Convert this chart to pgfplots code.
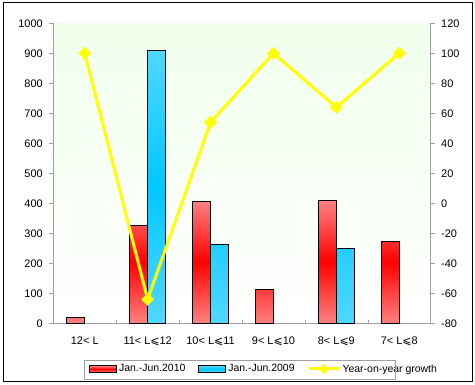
\documentclass[border=0pt]{standalone}
\usepackage{pgfplots}
\pgfplotsset{compat=1.18}
\usepackage{fontspec}
\setmainfont{Liberation Sans}
\newfontfamily\dv{DejaVu Sans}
\definecolor{axgray}{RGB}{160,160,160}
\definecolor{rlight}{RGB}{255,130,130}
\definecolor{rmid}{RGB}{255,0,0}
\definecolor{blight}{RGB}{80,215,255}
\definecolor{bmid}{RGB}{0,200,255}
\definecolor{bgtop}{RGB}{240,255,236}
\definecolor{bggreen}{RGB}{196,246,186}
\definecolor{yel}{RGB}{255,255,0}
\begin{document}
\begin{tikzpicture}
\useasboundingbox (0bp,0bp) rectangle (475bp,385bp);
\draw[black, line width=1bp] (3.5bp,3.5bp) rectangle (472.5bp,382bp);
\begin{axis}[
  at={(53.3bp,61.7bp)}, anchor=south west,
  scale only axis, width=377.4bp, height=300bp,
  xmin=-0.5, xmax=5.5, ymin=0, ymax=1000,
  ytick={0,100,...,1000},
  xtick={0,...,5},
  xticklabels={{12< L},{11< L{\dv ⩽}12},{10< L{\dv ⩽}11},{9< L{\dv ⩽}10},{8< L{\dv ⩽}9},{7< L{\dv ⩽}8}},
  minor xtick={0.5,1.5,2.5,3.5,4.5},
  major x tick style={draw=none},
  minor x tick style={axgray, yshift=3bp},
  minor tick length=3bp,
  major tick length=4bp,
  tick align=outside,
  xtick pos=bottom, ytick pos=left,
  y tick style={axgray},
  axis line style={axgray},
  axis y line*=left,
  axis x line*=bottom,
  tick label style={font=\fontsize{11}{13}\selectfont},
  /pgf/number format/assume math mode=true,
  /pgf/number format/1000 sep={},
  yticklabel style={xshift=-3bp},
  xticklabel style={yshift=-6bp},
  axis background/.style={shade, top color=bgtop, middle color=bggreen, bottom color=white},
  ybar=0pt, bar width=18bp,
  legend columns=3,
  legend style={at={(0.0946,-0.1523)}, anchor=west, draw=none, fill=none,
    inner sep=0pt, font=\fontsize{10.5}{12}\selectfont,
    /tikz/every even column/.append style={column sep=11bp}},
  legend cell align=left,
]
\addplot[draw=black, line width=0.9bp, top color=rlight, bottom color=rlight, middle color=rmid,
  legend image code/.code={\draw[black, line width=0.9bp, fill=rmid] (0bp,-3.2bp) rectangle (27bp,3.2bp);}]
  coordinates {(0,20) (1,327) (2,407) (3,113) (4,410) (5,273)};
\addlegendentry{Jan.-Jun.2010}
\addplot[draw=black, line width=0.9bp, top color=blight, bottom color=blight, middle color=bmid,
  legend image code/.code={\draw[black, line width=0.9bp, fill=bmid] (0bp,-3.2bp) rectangle (27bp,3.2bp);}]
  coordinates {(1,910) (2,263) (4,250)};
\addlegendentry{Jan.-Jun.2009}
\addlegendimage{yel, line width=3bp, legend image code/.code={\draw[yel, line width=3bp] (0bp,0bp) -- (30bp,0bp); \fill[yel] (15bp,0bp) +(-3bp,0bp) -- +(0bp,3bp) -- +(3bp,0bp) -- +(0bp,-3bp) -- cycle;}}
\addlegendentry{Year-on-year growth}
\end{axis}
\begin{axis}[
  at={(53.3bp,61.7bp)}, anchor=south west,
  scale only axis, width=377.4bp, height=300bp,
  xmin=-0.5, xmax=5.5, ymin=-80, ymax=120,
  ytick={-80,-60,...,120},
  axis x line=none,
  axis y line*=right,
  axis line style={axgray},
  y tick style={axgray},
  major tick length=4bp,
  tick align=outside,
  tick label style={font=\fontsize{11}{13}\selectfont},
  /pgf/number format/assume math mode=true,
  yticklabel style={xshift=3bp},
  clip=false,
]
\addplot[yel, line width=3bp, mark=square*, mark size=4.3bp, mark options={rotate=45, fill=yel, draw=yel, line width=0.5bp}]
  coordinates {(0,100) (1,-64) (2,54) (3,100) (4,64) (5,100)};
\end{axis}
\draw[axgray, line width=0.8bp] (84.3bp,5.7bp) rectangle (395bp,25bp);
\end{tikzpicture}
\end{document}
